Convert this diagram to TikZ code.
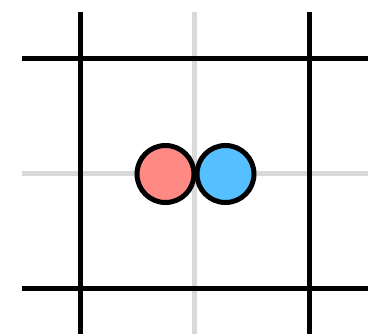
\documentclass[tikz,border=0pt]{standalone}
\definecolor{gridgray}{HTML}{D9D9D9}
\definecolor{redfill}{HTML}{FF8A85}
\definecolor{bluefill}{HTML}{55BFFF}
\tikzset{
  thinline/.style={draw=gridgray, line width=5pt},
  thickline/.style={draw=black, line width=5pt},
  ball/.style={circle, draw=black, line width=5pt, minimum size=57pt, inner sep=0pt},
}
\begin{document}
\begin{tikzpicture}[x=1pt,y=-1pt]
\useasboundingbox (0,0) rectangle (386,334);
\fill[white] (0,0) rectangle (386,334);
\coordinate (gvt) at (194.8,12.3);
\coordinate (gvb) at (194.8,334);
\coordinate (ghl) at (22,173.5);
\coordinate (ghr) at (368.3,173.5);
\draw[thinline] (gvt) -- (gvb);
\draw[thinline] (ghl) -- (ghr);
\coordinate (v1t) at (80.5,12.3);
\coordinate (v1b) at (80.5,334);
\coordinate (v2t) at (309.5,12.3);
\coordinate (v2b) at (309.5,334);
\coordinate (h1l) at (22,59);
\coordinate (h1r) at (368.3,59);
\coordinate (h2l) at (22,288.5);
\coordinate (h2r) at (368.3,288.5);
\draw[thickline] (v1t) -- (v1b);
\draw[thickline] (v2t) -- (v2b);
\draw[thickline] (h1l) -- (h1r);
\draw[thickline] (h2l) -- (h2r);
\node[ball, fill=redfill] (red) at (165.5,174) {};
\node[ball, fill=bluefill] (blue) at (225.5,174) {};
\end{tikzpicture}
\end{document}
